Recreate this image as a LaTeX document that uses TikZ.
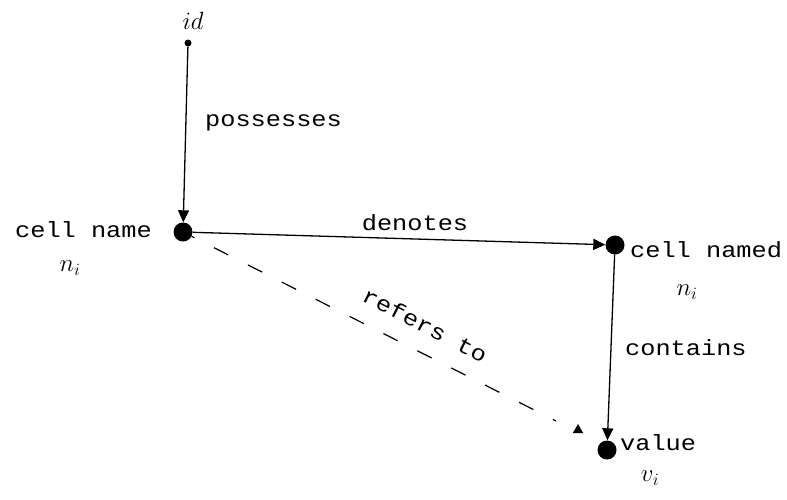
\documentclass[tikz,border=0pt]{standalone}
\usepackage{fontspec}
\newfontfamily\twfont[FakeStretch=1.15]{Liberation Mono}
\usetikzlibrary{arrows.meta,shapes.geometric,calc}
\begin{document}
\begin{tikzpicture}[x=1pt,y=-1pt,
  dot/.style={circle,fill=black,inner sep=0pt,minimum size=19pt},
  smalldot/.style={circle,fill=black,inner sep=0pt,minimum size=7pt},
  lbl/.style={font=\twfont\fontsize{22}{24}\selectfont,inner sep=0pt},
  mlbl/.style={font=\fontsize{24}{26}\selectfont,inner sep=0pt},
  link/.style={line width=1.3pt,-{Triangle[length=12pt,width=11pt]}},
  reflink/.style={line width=1.2pt,dash pattern=on 16pt off 22pt,dash phase=13pt}]
\useasboundingbox (0,0) rectangle (787,499);
\node[smalldot] (id) at (188,43) {};
\node[mlbl] (idl) at (193,21) {$id$};
\node[dot] (cn) at (183,232) {};
\node[dot] (cd) at (615,245) {};
\node[dot] (val) at (607,450) {};
\node[regular polygon,regular polygon sides=3,fill=black,inner sep=0pt,minimum size=12pt] (rt) at (578,430) {};
\coordinate (rte) at (556,421);
\draw[link] (id) -- (cn);
\draw[link] (cn) -- (cd);
\draw[link] (cd) -- (val);
\draw[reflink] (cn) -- (rte);
\node[lbl,anchor=east] (cnl) at (152,230) {cell name};
\node[mlbl] (cnn) at (70,268) {$n_{i}$};
\node[lbl,anchor=west] (pos) at (205,123) {possesses};
\node[lbl] (den) at (415,223) {denotes};
\node[lbl,anchor=west] (cdl) at (630,250) {cell named};
\node[mlbl] (cdn) at (687,292) {$n_{i}$};
\node[lbl,anchor=west] (con) at (625,348) {contains};
\node[lbl,anchor=west] (vl) at (620,443) {value};
\node[mlbl] (vv) at (650,478) {$v_{i}$};
\node[lbl,rotate=-27] (ref) at (425,325) {refers to};
\end{tikzpicture}
\end{document}
